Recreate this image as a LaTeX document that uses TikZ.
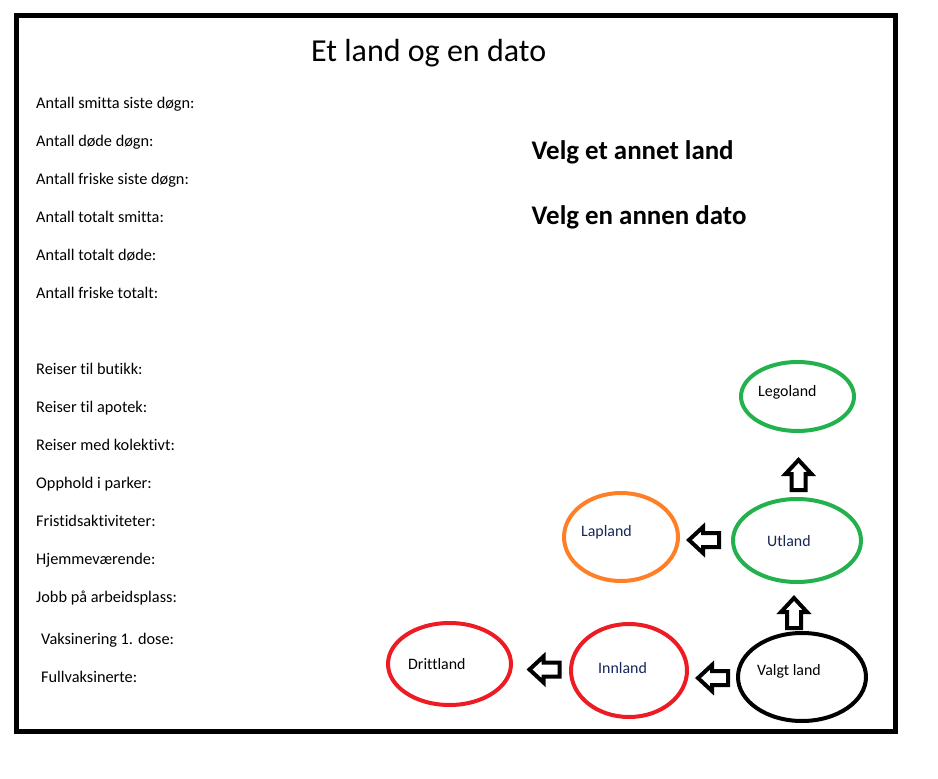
\documentclass[tikz,border=0pt]{standalone}
\usepackage{fontspec}
\setmainfont{Carlito}[Ligatures=NoCommon]
\usetikzlibrary{shapes.geometric}
\definecolor{pgreen}{HTML}{22B14C}
\definecolor{porange}{HTML}{FF7F27}
\definecolor{pred}{HTML}{ED1C24}
\definecolor{navy}{RGB}{22,38,86}
\tikzset{
  listtxt/.style={anchor=base west, inner sep=0pt, font=\fontsize{16.3}{19}\selectfont},
  landtxt/.style={anchor=base west, inner sep=0pt, font=\fontsize{15.9}{19}\selectfont},
  bigtxt/.style={anchor=base west, inner sep=0pt, font=\fontsize{26.9}{31}\selectfont\bfseries},
  land/.style={ellipse, draw, line width=4pt, inner sep=0pt},
  barrow/.pic={\draw[line width=4pt, line join=miter, fill=white]
     (-15,-7) -- (1,-7) -- (1,-13) -- (15,0) -- (1,13) -- (1,7) -- (-15,7) -- cycle;}
}
\begin{document}
\begin{tikzpicture}[x=1pt,y=-1pt]
\useasboundingbox (0,0) rectangle (938,779);
\fill[white] (0,0) rectangle (938,779);
\draw[line width=5pt] (16.5,15) rectangle (895,731.5);

\node[anchor=base west, inner sep=0pt, font=\fontsize{32}{36}\selectfont] (title) at (311,61) {Et land og en dato};

\node[listtxt] (l1) at (36,108) {Antall smitta siste døgn:};
\node[listtxt] (l2) at (36,146) {Antall døde døgn:};
\node[listtxt] (l3) at (36,184) {Antall friske siste døgn:};
\node[listtxt] (l4) at (36,222) {Antall totalt smitta:};
\node[listtxt] (l5) at (36,260) {Antall totalt døde:};
\node[listtxt] (l6) at (36,298) {Antall friske totalt:};
\node[listtxt] (r1) at (36,374) {Reiser til butikk:};
\node[listtxt] (r2) at (36,412) {Reiser til apotek:};
\node[listtxt] (r3) at (36,450) {Reiser med kolektivt:};
\node[listtxt] (r4) at (36,488) {Opphold i parker:};
\node[listtxt] (r5) at (36,526) {Fristidsaktiviteter:};
\node[listtxt] (r6) at (36,564) {Hjemmeværende:};
\node[listtxt] (r7) at (36,602) {Jobb på arbeidsplass:};
\node[listtxt] (v1) at (41,644) {Vaksinering 1. dose:};
\node[listtxt] (v2) at (41,682) {Fullvaksinerte:};

\node[bigtxt] (b1) at (531.5,159) {Velg et annet land};
\node[bigtxt] (b2) at (531.5,224) {Velg en annen dato};

\node[land, draw=pgreen, minimum width=113pt, minimum height=69pt] (lego) at (797.5,396.5) {};
\node[land, draw=pgreen, minimum width=128pt, minimum height=83pt] (ut) at (797,540.5) {};
\node[land, draw=porange, minimum width=114pt, minimum height=88pt] (lap) at (621,537) {};
\node[land, draw=pred, minimum width=123pt, minimum height=82pt] (dritt) at (449.5,664) {};
\node[land, draw=pred, minimum width=116pt, minimum height=93pt] (inn) at (629,670.5) {};
\node[land, draw=black, minimum width=128pt, minimum height=88pt] (valgt) at (802,677) {};

\node[landtxt] (legot) at (758,396.5) {Legoland};
\node[landtxt, text=navy] (utt) at (767,546) {Utland};
\node[landtxt, text=navy] (lapt) at (581,536) {Lapland};
\node[landtxt] (drittt) at (408,669) {Drittland};
\node[landtxt, text=navy] (innt) at (598,673) {Innland};
\node[landtxt] (valgtt) at (757,675) {Valgt land};

\pic[rotate=90] at (798.5,475) {barrow};
\pic[rotate=90] at (794,613) {barrow};
\pic[rotate=180] at (704,540) {barrow};
\pic[rotate=180] at (544.5,669.5) {barrow};
\pic[rotate=180] at (713,678) {barrow};
\end{tikzpicture}
\end{document}
